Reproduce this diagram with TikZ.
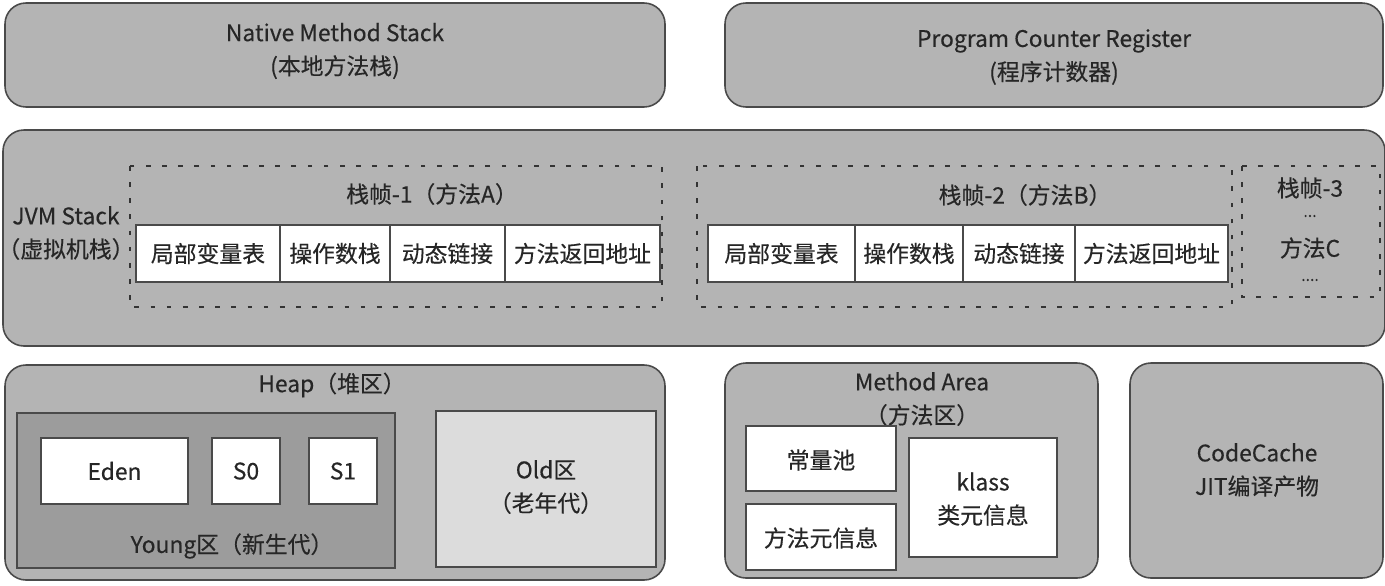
\documentclass[tikz,border=0pt]{standalone}
\usepackage{fontspec}
\setmainfont{Noto Sans CJK SC}[FakeBold=0.35]
\usepackage{tikz}

\definecolor{areagray}{HTML}{B4B4B4}
\definecolor{younggray}{HTML}{9C9C9C}
\definecolor{oldgray}{HTML}{DCDCDC}
\definecolor{edgegray}{HTML}{4A4A4A}

\tikzset{
  area/.style={draw=edgegray, line width=0.9pt, fill=areagray, rounded corners=0.42cm},
  cell/.style={draw=edgegray, line width=0.7pt, fill=white},
  frame/.style={draw=black!80, line width=0.8pt, dash pattern=on 2.6pt off 6.6pt},
  lbl/.style={font=\fontsize{13}{15}\selectfont, text=black!85, align=center, inner sep=0pt}
}

\begin{document}
\begin{tikzpicture}[x=0.02cm, y=-0.02cm]
	\useasboundingbox (0,0) rectangle (1385,585);

	% top row
	\draw[area] (5,3) rectangle (665,107);
	\node[lbl] (native) at (335,51) {Native Method Stack\\[4pt](本地方法栈)};
	\draw[area] (725,3) rectangle (1383,107);
	\node[lbl] (pcreg) at (1054,57) {Program Counter Register\\[4pt](程序计数器)};

	% jvm stack
	\draw[area] (3,130) rectangle (1385,346);
	\node[lbl] (jvm) at (66,233) {JVM Stack\\[4pt]（虚拟机栈）};

	\draw[frame] (130,166) rectangle (662,307);
	\node[lbl] (f1) at (432,194) {栈帧-1（方法A）};
	\draw[frame] (697,166) rectangle (1232,307);
	\node[lbl] (f2) at (1025,195) {栈帧-2（方法B）};
	\draw[frame] (1242,166) rectangle (1380,297);
	\node[lbl] (f3) at (1310,188) {栈帧-3};
	\node[lbl, font=\fontsize{9}{11}\selectfont] (f3a) at (1310,216) {...};
	\node[lbl] (f3b) at (1310,248) {方法C};
	\node[lbl, font=\fontsize{9}{11}\selectfont] (f3c) at (1310,280) {....};

	% frame cells
	\foreach \xa/\xb/\txt [count=\n] in {136/280/局部变量表, 280/390/操作数栈, 390/505/动态链接, 505/660/方法返回地址}{
		\draw[cell] (\xa,225) rectangle (\xb,282);
		\node[lbl] (a\n) at ({(\xa+\xb)/2},253.5) {\txt};
	}
	\foreach \xa/\xb/\txt [count=\n] in {708/855/局部变量表, 855/963/操作数栈, 963/1075/动态链接, 1075/1228/方法返回地址}{
		\draw[cell] (\xa,225) rectangle (\xb,282);
		\node[lbl] (b\n) at ({(\xa+\xb)/2},253.5) {\txt};
	}

	% heap
	\draw[area] (5,365) rectangle (665,580);
	\node[lbl] (heap) at (332,385) {Heap（堆区）};
	\draw[draw=edgegray, line width=0.8pt, fill=younggray] (17,413) rectangle (395,568);
	\draw[cell] (41,438) rectangle (188,504);
	\node[lbl] (eden) at (114.5,471) {Eden};
	\draw[cell] (212,438) rectangle (280,504);
	\node[lbl] (s0) at (246,471) {S0};
	\draw[cell] (309,438) rectangle (377,504);
	\node[lbl] (s1) at (343,471) {S1};
	\node[lbl] (young) at (232,546) {Young区（新生代）};
	\draw[draw=edgegray, line width=0.8pt, fill=oldgray] (436,411) rectangle (656,567);
	\node[lbl] (old) at (546,487) {Old区\\[4pt]（老年代）};

	% method area
	\draw[area] (725,363) rectangle (1098,578);
	\node[lbl] (marea) at (922,399) {Method Area\\[4pt]（方法区）};
	\draw[cell] (746,426) rectangle (896,491);
	\node[lbl] (pool) at (821,460) {常量池};
	\draw[cell] (746,504) rectangle (896,570);
	\node[lbl] (meta) at (821,538) {方法元信息};
	\draw[cell] (909,438) rectangle (1057,557);
	\node[lbl] (klass) at (983,499) {klass\\[4pt]类元信息};

	% code cache
	\draw[area] (1130,363) rectangle (1383,578);
	\node[lbl] (cache) at (1257,470) {CodeCache\\[4pt]JIT编译产物};
\end{tikzpicture}
\end{document}
